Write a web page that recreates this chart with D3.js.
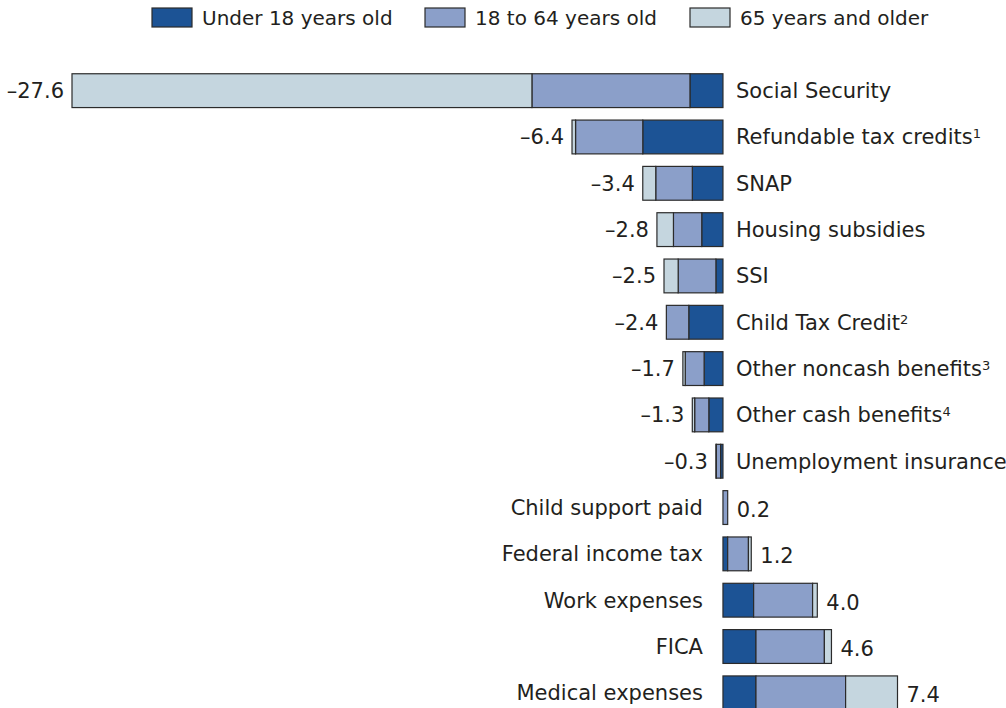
<!DOCTYPE html>
<html>
<head>
<meta charset="utf-8">
<script src="https://cdn.jsdelivr.net/npm/d3@7"></script>
<style>
  body { margin: 0; background: #fff; }
  text { font-family: "DejaVu Sans", sans-serif; fill: #231f20; }
</style>
</head>
<body>
<div id="wrapper"></div>
<script>
// categories, top to bottom
const categories = [
  "Social Security", "Refundable tax credits", "SNAP", "Housing subsidies", "SSI",
  "Child Tax Credit", "Other noncash benefits", "Other cash benefits", "Unemployment insurance",
  "Child support paid", "Federal income tax", "Work expenses", "FICA", "Medical expenses"
];
const footnotes = ["", "1", "", "", "", "2", "3", "4", "", "", "", "", "", ""];
const totals = [-27.6, -6.4, -3.4, -2.8, -2.5, -2.4, -1.7, -1.3, -0.3, 0.2, 1.2, 4.0, 4.6, 7.4];

// age group pieces
const under18 = [-1.4, -3.4, -1.3, -0.9, -0.3, -1.45, -0.8, -0.6, -0.1, 0, 0.2, 1.3, 1.4, 1.4];
const age18to64 = [-6.7, -2.85, -1.55, -1.2, -1.6, -0.95, -0.8, -0.6, -0.18, 0.2, 0.88, 2.5, 2.9, 3.8];
const over65 = [-19.5, -0.15, -0.55, -0.7, -0.6, 0, -0.1, -0.1, -0.02, 0, 0.12, 0.2, 0.3, 2.2];

const seriesNames = ["Under 18 years old", "18 to 64 years old", "65 years and older"];
const seriesColors = ["#1c5395", "#8b9fc9", "#c5d6df"];

const width = 1006, height = 708;

const svg = d3.select("#wrapper").append("svg")
  .attr("width", width)
  .attr("height", height);

const xScale = d3.scaleLinear()
  .domain([-27.6, 7.4])
  .range([72, 897.5]);

const yScale = d3.scaleBand()
  .domain(categories)
  .range([67.5, 716])
  .paddingInner(0.27)
  .paddingOuter(0.135);

// build stacked segments, starting at zero
const seriesData = [under18, age18to64, over65];
const segments = [];
categories.forEach((c, i) => {
  let start = 0;
  seriesData.forEach((arr, s) => {
    const v = arr[i];
    if (v === 0) return;
    segments.push({ cat: c, s, x0: start, x1: start + v });
    start += v;
  });
});

svg.append("g").selectAll("rect")
  .data(segments)
  .join("rect")
  .attr("x", d => xScale(Math.min(d.x0, d.x1)))
  .attr("y", d => yScale(d.cat))
  .attr("width", d => Math.abs(xScale(d.x1) - xScale(d.x0)))
  .attr("height", yScale.bandwidth())
  .attr("fill", d => seriesColors[d.s])
  .attr("stroke", "#2b2b2b")
  .attr("stroke-width", 1.2);

const fmt = v => (v < 0 ? "\u2013" : "") + Math.abs(v).toFixed(1);

// value labels
svg.append("g").selectAll("text")
  .data(categories)
  .join("text")
  .attr("x", (d, i) => totals[i] < 0 ? xScale(totals[i]) - 8 : xScale(totals[i]) + 9)
  .attr("y", (d, i) => yScale(d) + yScale.bandwidth() / 2 + (totals[i] < 0 ? 0 : 2))
  .attr("dy", "0.35em")
  .attr("text-anchor", (d, i) => totals[i] < 0 ? "end" : "start")
  .style("font-size", "21px")
  .text((d, i) => fmt(totals[i]));

// category labels
const catLabels = svg.append("g").selectAll("text")
  .data(categories)
  .join("text")
  .attr("x", (d, i) => totals[i] < 0 ? xScale(0) + 13 : xScale(0) - 20)
  .attr("y", d => yScale(d) + yScale.bandwidth() / 2)
  .attr("dy", "0.35em")
  .attr("text-anchor", (d, i) => totals[i] < 0 ? "start" : "end")
  .style("font-size", "21px");

catLabels.append("tspan").text(d => d);
catLabels.append("tspan")
  .attr("dy", "-0.45em")
  .style("font-size", "13px")
  .text((d, i) => footnotes[i]);

// legend
const legendX = [152, 425, 690];
const legend = svg.append("g").selectAll("g")
  .data(seriesNames)
  .join("g")
  .attr("transform", (d, i) => `translate(${legendX[i]}, 8)`);

legend.append("rect")
  .attr("width", 40)
  .attr("height", 19)
  .attr("fill", (d, i) => seriesColors[i])
  .attr("stroke", "#2b2b2b")
  .attr("stroke-width", 1.2);

legend.append("text")
  .attr("x", 50)
  .attr("y", 10)
  .attr("dy", "0.35em")
  .style("font-size", "20px")
  .text(d => d);
</script>
</body>
</html>
